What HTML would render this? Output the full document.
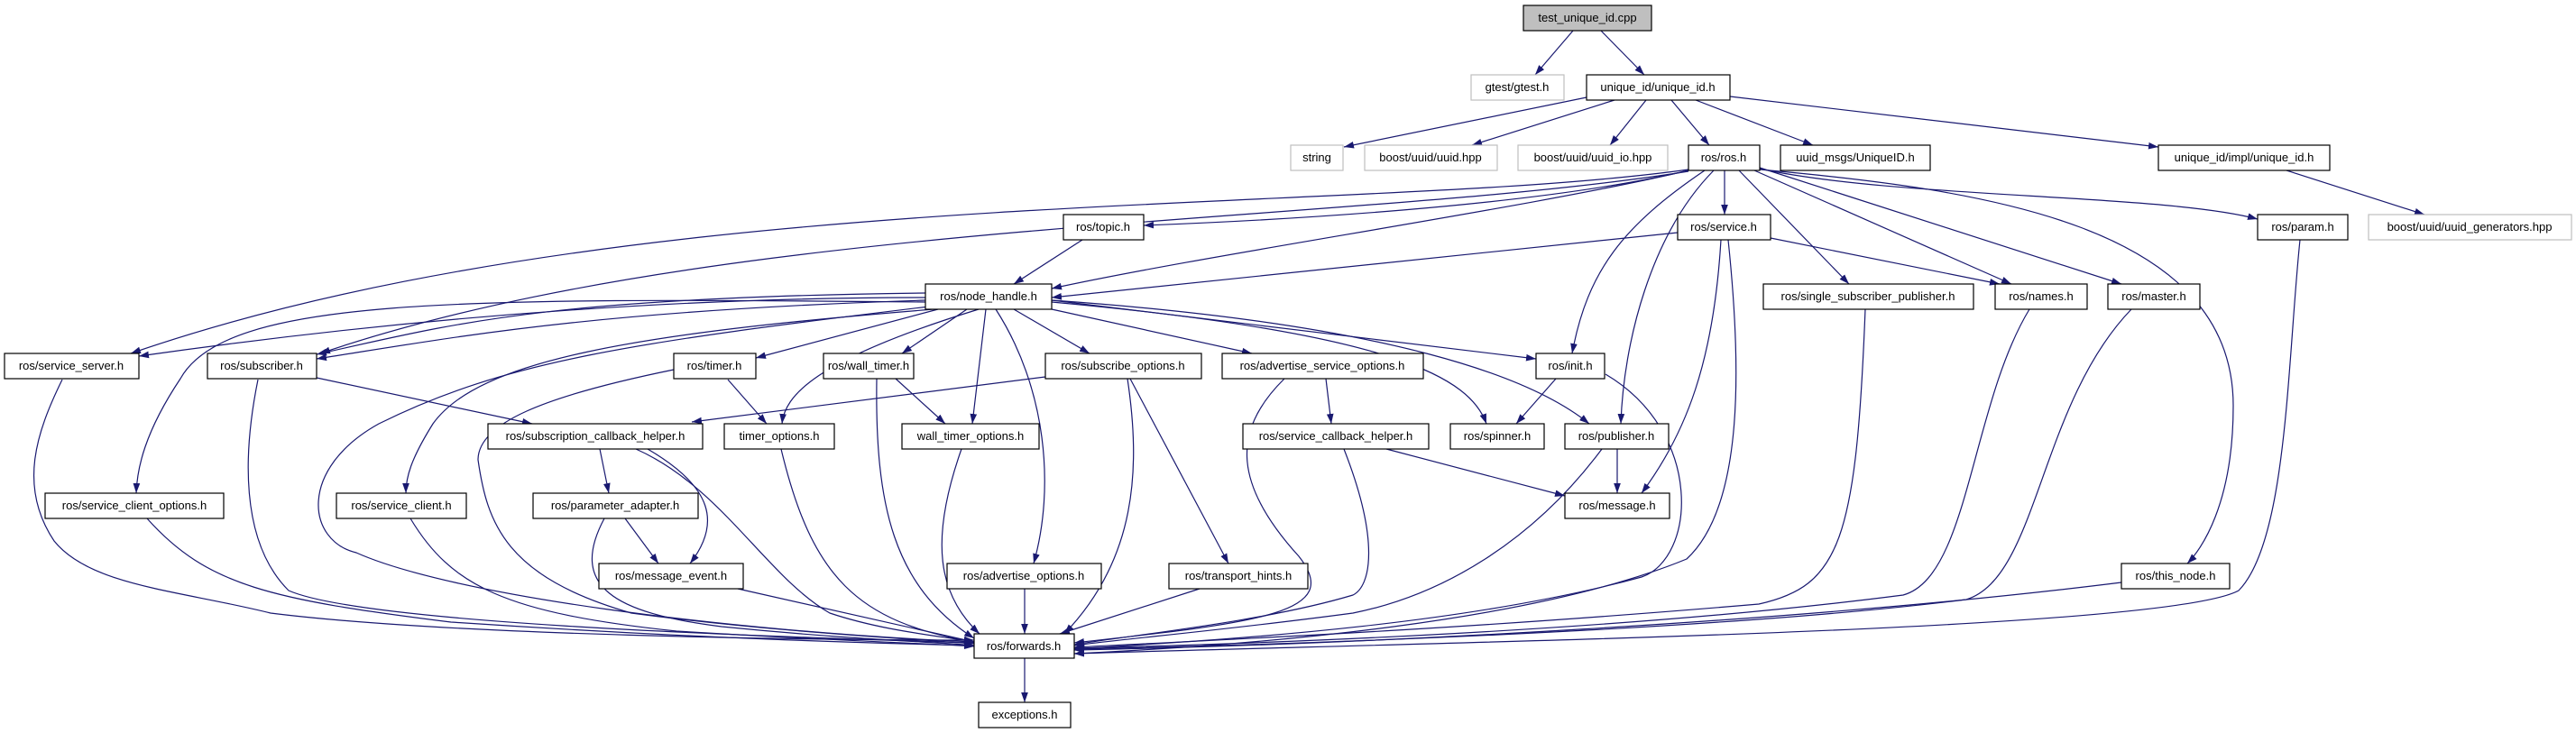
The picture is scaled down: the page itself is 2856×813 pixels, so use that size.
<!DOCTYPE html>
<html><head><meta charset="utf-8"><style>
html,body{margin:0;padding:0;background:#fff;}
svg{display:block;}
text{font-family:"Liberation Sans",sans-serif;font-size:13px;text-anchor:middle;fill:#000;}
.n{fill:#fff;stroke:#000;stroke-width:1.2;}
.g{fill:#fff;stroke:#bfbfbf;stroke-width:1.2;}
.e{fill:none;stroke:#191970;stroke-width:1.2;marker-end:url(#a);}
</style></head><body>
<svg width="2856" height="813" viewBox="0 0 2856 813" xmlns="http://www.w3.org/2000/svg">
<defs><marker id="a" viewBox="0 0 10 7" refX="10" refY="3.5" markerWidth="11" markerHeight="8" markerUnits="userSpaceOnUse" orient="auto"><path d="M0,0 L10,3.5 L0,7 z" fill="#191970"/></marker></defs>
<g>
<path class="e" d="M1744,34 L1702,83"/>
<path class="e" d="M1775,34 L1823,83"/>
<path class="e" d="M1759,108 L1490,163"/>
<path class="e" d="M1790,111 L1632,161"/>
<path class="e" d="M1825,111 L1785,161"/>
<path class="e" d="M1853,111 L1895,161"/>
<path class="e" d="M1880,111 L2010,161"/>
<path class="e" d="M1918,107 L2393,163"/>
<path class="e" d="M2535,189 L2688,238"/>
<path class="e" d="M1872,189 C1700,230 1400,245 1268,250"/>
<path class="e" d="M1872,189 C1700,230 1350,280 1166,320"/>
<path class="e" d="M1912,189 L1912,238"/>
<path class="e" d="M1872,188 C1500,240 700,200 145,392"/>
<path class="e" d="M1872,190 C1500,250 800,240 355,392"/>
<path class="e" d="M1890,189 C1800,250 1760,300 1743,392"/>
<path class="e" d="M1900,189 C1830,260 1800,380 1797,470"/>
<path class="e" d="M1928,189 L2050,315"/>
<path class="e" d="M1945,189 L2230,315"/>
<path class="e" d="M1951,186 L2352,315"/>
<path class="e" d="M1951,187 C2100,220 2400,215 2503,243"/>
<path class="e" d="M1951,188 C2200,210 2476,250 2476,450 C2476,560 2440,610 2425,625"/>
<path class="e" d="M1860,258 L1166,330"/>
<path class="e" d="M1963,264 L2217,315"/>
<path class="e" d="M1908,266 C1900,400 1870,480 1820,547"/>
<path class="e" d="M1916,266 C1930,400 1935,560 1870,620 C1700,690 1400,715 1191,725"/>
<path class="e" d="M1200,266 L1124,315"/>
<path class="e" d="M1026,330 C700,330 400,360 154,395"/>
<path class="e" d="M1026,325 C600,330 500,360 351,393"/>
<path class="e" d="M1026,333 C650,345 500,375 351,398"/>
<path class="e" d="M1026,335 C500,330 250,330 200,420 C160,480 152,520 151,547"/>
<path class="e" d="M1035,343 C700,370 530,400 480,470 C455,510 450,530 450,547"/>
<path class="e" d="M1040,343 L838,397"/>
<path class="e" d="M1072,343 L1000,392"/>
<path class="e" d="M1085,343 C900,400 870,440 867,470"/>
<path class="e" d="M1093,343 L1078,470"/>
<path class="e" d="M1104,343 C1160,430 1170,540 1146,625"/>
<path class="e" d="M1124,343 L1208,392"/>
<path class="e" d="M1166,343 L1388,392"/>
<path class="e" d="M1166,335 C1550,370 1630,420 1648,470"/>
<path class="e" d="M1166,333 C1550,360 1700,420 1762,470"/>
<path class="e" d="M1166,333 L1703,398"/>
<path class="e" d="M1030,340 C700,380 561,400 420,470 C330,520 340,600 395,613 C500,660 800,700 1080,712"/>
<path class="e" d="M69,421 C40,480 20,540 60,600 C100,650 200,655 300,680 C500,705 900,710 1080,710"/>
<path class="e" d="M286,421 C270,500 265,600 320,655 C400,690 800,705 1080,713"/>
<path class="e" d="M351,419 L590,470"/>
<path class="e" d="M747,410 C600,440 530,470 530,510 C540,580 560,640 700,680 C850,700 1000,708 1080,714"/>
<path class="e" d="M807,421 L850,470"/>
<path class="e" d="M665,498 L675,547"/>
<path class="e" d="M718,498 C790,540 800,580 765,625"/>
<path class="e" d="M705,498 C800,540 850,640 920,680 C980,700 1040,705 1080,712"/>
<path class="e" d="M693,575 L730,625"/>
<path class="e" d="M670,575 C630,650 680,680 800,695 C950,710 1040,712 1080,716"/>
<path class="e" d="M818,653 L1080,712"/>
<path class="e" d="M163,575 C230,650 300,665 500,690 C800,710 1000,714 1080,716"/>
<path class="e" d="M455,575 C500,650 560,680 750,700 C950,712 1040,714 1080,717"/>
<path class="e" d="M866,498 C900,640 950,690 1080,712"/>
<path class="e" d="M972,420 C970,560 990,650 1080,708"/>
<path class="e" d="M993,420 L1048,470"/>
<path class="e" d="M1066,498 C1030,600 1040,660 1086,703"/>
<path class="e" d="M1159,418 L767,468"/>
<path class="e" d="M1250,420 C1265,520 1260,620 1180,703"/>
<path class="e" d="M1253,420 L1362,625"/>
<path class="e" d="M1470,420 L1476,470"/>
<path class="e" d="M1424,420 C1363,480 1370,540 1440,617 C1490,680 1400,690 1191,713"/>
<path class="e" d="M1537,498 L1735,550"/>
<path class="e" d="M1490,498 C1530,600 1520,650 1500,660 C1400,690 1250,705 1191,715"/>
<path class="e" d="M1725,420 L1681,470"/>
<path class="e" d="M1780,415 C1890,480 1880,620 1820,640 C1600,700 1300,712 1191,720"/>
<path class="e" d="M1793,498 L1793,547"/>
<path class="e" d="M1776,498 C1700,600 1600,660 1500,680 C1350,700 1250,708 1191,716"/>
<path class="e" d="M1136,653 L1136,703"/>
<path class="e" d="M1330,653 L1175,703"/>
<path class="e" d="M2068,343 C2058,600 2040,650 1950,670 C1600,700 1300,712 1191,718"/>
<path class="e" d="M2250,343 C2185,450 2183,640 2110,660 C1800,700 1400,714 1191,719"/>
<path class="e" d="M2363,343 C2260,450 2260,640 2180,665 C1900,700 1400,716 1191,720"/>
<path class="e" d="M2352,646 C2000,690 1500,715 1191,721"/>
<path class="e" d="M2550,266 C2536,400 2536,600 2482,655 C2400,700 1600,712 1191,725"/>
<path class="e" d="M1136,730 L1136,779"/>
</g>
<g>
<rect x="1689" y="6" width="142" height="28" fill="#bfbfbf" stroke="#000" stroke-width="1.2"/><text x="1760" y="24">test_unique_id.cpp</text>
<rect class="g" x="1631" y="83" width="103" height="28"/><text x="1682" y="101">gtest/gtest.h</text>
<rect class="n" x="1759" y="83" width="159" height="28"/><text x="1838" y="101">unique_id/unique_id.h</text>
<rect class="g" x="1431" y="161" width="58" height="28"/><text x="1460" y="179">string</text>
<rect class="g" x="1513" y="161" width="147" height="28"/><text x="1586" y="179">boost/uuid/uuid.hpp</text>
<rect class="g" x="1683" y="161" width="166" height="28"/><text x="1766" y="179">boost/uuid/uuid_io.hpp</text>
<rect class="n" x="1872" y="161" width="79" height="28"/><text x="1911" y="179">ros/ros.h</text>
<rect class="n" x="1974" y="161" width="166" height="28"/><text x="2057" y="179">uuid_msgs/UniqueID.h</text>
<rect class="n" x="2393" y="161" width="190" height="28"/><text x="2488" y="179">unique_id/impl/unique_id.h</text>
<rect class="n" x="1179" y="238" width="89" height="28"/><text x="1223" y="256">ros/topic.h</text>
<rect class="n" x="1860" y="238" width="103" height="28"/><text x="1911" y="256">ros/service.h</text>
<rect class="n" x="2503" y="238" width="100" height="28"/><text x="2553" y="256">ros/param.h</text>
<rect class="g" x="2626" y="238" width="225" height="28"/><text x="2738" y="256">boost/uuid/uuid_generators.hpp</text>
<rect class="n" x="1026" y="315" width="140" height="28"/><text x="1096" y="333">ros/node_handle.h</text>
<rect class="n" x="1955" y="315" width="233" height="28"/><text x="2071" y="333">ros/single_subscriber_publisher.h</text>
<rect class="n" x="2212" y="315" width="102" height="28"/><text x="2263" y="333">ros/names.h</text>
<rect class="n" x="2337" y="315" width="102" height="28"/><text x="2388" y="333">ros/master.h</text>
<rect class="n" x="5" y="392" width="149" height="28"/><text x="79" y="410">ros/service_server.h</text>
<rect class="n" x="230" y="392" width="121" height="28"/><text x="290" y="410">ros/subscriber.h</text>
<rect class="n" x="747" y="392" width="91" height="28"/><text x="792" y="410">ros/timer.h</text>
<rect class="n" x="913" y="392" width="100" height="28"/><text x="963" y="410">ros/wall_timer.h</text>
<rect class="n" x="1159" y="392" width="173" height="28"/><text x="1245" y="410">ros/subscribe_options.h</text>
<rect class="n" x="1355" y="392" width="223" height="28"/><text x="1466" y="410">ros/advertise_service_options.h</text>
<rect class="n" x="1703" y="392" width="76" height="28"/><text x="1741" y="410">ros/init.h</text>
<rect class="n" x="541" y="470" width="238" height="28"/><text x="660" y="488">ros/subscription_callback_helper.h</text>
<rect class="n" x="803" y="470" width="122" height="28"/><text x="864" y="488">timer_options.h</text>
<rect class="n" x="1000" y="470" width="152" height="28"/><text x="1076" y="488">wall_timer_options.h</text>
<rect class="n" x="1378" y="470" width="206" height="28"/><text x="1481" y="488">ros/service_callback_helper.h</text>
<rect class="n" x="1608" y="470" width="104" height="28"/><text x="1660" y="488">ros/spinner.h</text>
<rect class="n" x="1735" y="470" width="115" height="28"/><text x="1792" y="488">ros/publisher.h</text>
<rect class="n" x="50" y="547" width="198" height="28"/><text x="149" y="565">ros/service_client_options.h</text>
<rect class="n" x="373" y="547" width="144" height="28"/><text x="445" y="565">ros/service_client.h</text>
<rect class="n" x="591" y="547" width="183" height="28"/><text x="682" y="565">ros/parameter_adapter.h</text>
<rect class="n" x="1735" y="547" width="116" height="28"/><text x="1793" y="565">ros/message.h</text>
<rect class="n" x="664" y="625" width="160" height="28"/><text x="744" y="643">ros/message_event.h</text>
<rect class="n" x="1050" y="625" width="171" height="28"/><text x="1135" y="643">ros/advertise_options.h</text>
<rect class="n" x="1296" y="625" width="154" height="28"/><text x="1373" y="643">ros/transport_hints.h</text>
<rect class="n" x="2352" y="625" width="120" height="28"/><text x="2412" y="643">ros/this_node.h</text>
<rect class="n" x="1080" y="703" width="111" height="27"/><text x="1135" y="721">ros/forwards.h</text>
<rect class="n" x="1085" y="779" width="102" height="28"/><text x="1136" y="797">exceptions.h</text>
</g>
</svg>
</body></html>
